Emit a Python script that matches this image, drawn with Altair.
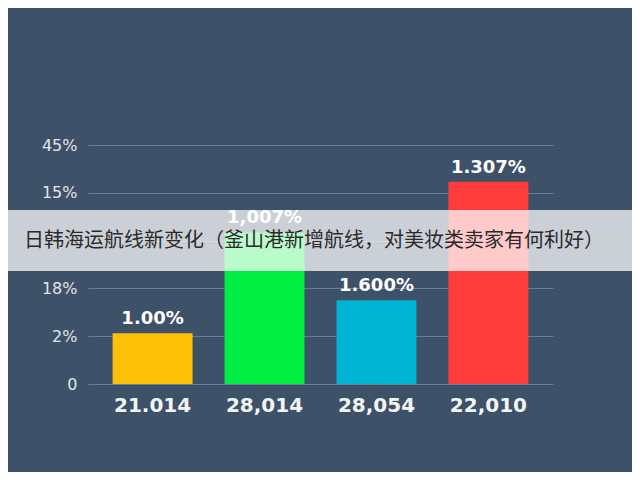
import altair as alt
import pandas as pd

categories = ["21.014", "28,014", "28,054", "22,010"]
values = [1.06, 3.17, 1.75, 4.23]
bar_labels = ["1.00%", "1,007%", "1.600%", "1.307%"]
colors = ["#ffc107", "#00ee44", "#00b4d4", "#ff3b3b"]
y_tick_labels = ["0", "2%", "18%", "", "15%", "45%"]
banner_text = "日韩海运航线新变化（釜山港新增航线，对美妆类卖家有何利好）"

df = pd.DataFrame({"cat": categories, "val": values, "lab": bar_labels, "col": colors})

label_expr = "[" + ",".join("'" + t + "'" for t in y_tick_labels) + "][datum.value]"

x_enc = alt.X("cat:N", sort=categories,
              scale=alt.Scale(paddingInner=0.286, paddingOuter=0.22),
              axis=alt.Axis(title=None, labelAngle=0, labelFont="DejaVu Sans", labelFontWeight="bold",
                            labelFontSize=20, labelColor="#f2f4f6", labelPadding=11,
                            ticks=False, domain=False))
y_enc = alt.Y("val:Q", scale=alt.Scale(domain=[0, 5], nice=False),
              axis=alt.Axis(title=None, values=[0, 1, 2, 3, 4, 5], labelExpr=label_expr,
                            labelFont="DejaVu Sans", labelFontSize=16, labelColor="#e2e6ea",
                            labelPadding=11, ticks=False, domain=False,
                            gridColor="#6a7f95", gridWidth=1.2))

bars = alt.Chart(df).mark_bar().encode(
    x=x_enc, y=y_enc,
    color=alt.Color("col:N", scale=None),
)
texts = alt.Chart(df).mark_text(baseline="alphabetic", dy=-9, font="DejaVu Sans", fontWeight="bold",
                                fontSize=18, color="#ffffff").encode(
    x=alt.X("cat:N", sort=categories), y=alt.Y("val:Q"), text="lab:N")

banner = alt.Chart(pd.DataFrame({"t": [banner_text]})).mark_rect(
    color="#ffffff", opacity=0.73).encode(
    x=alt.value(-80), x2=alt.value(544), y=alt.value(65), y2=alt.value(126))
banner_txt = alt.Chart(pd.DataFrame({"t": [banner_text]})).mark_text(
    font="Noto Sans CJK SC", fontSize=20, color="#2a2a2a", align="center", baseline="middle").encode(
    x=alt.value(226), y=alt.value(96), text="t:N")

chart = alt.layer(bars, texts, banner, banner_txt).properties(
    width=465, height=239,
    autosize=alt.AutoSizeParams(type="none"),
    padding={"left": 80, "top": 137, "right": 79, "bottom": 88},
    background="#3d5169",
).configure_view(stroke=None)

chart.save("out.html", embed_options={"renderer": "svg", "actions": False})
